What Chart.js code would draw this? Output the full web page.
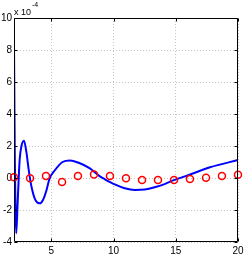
<!DOCTYPE html>
<html><head><meta charset="utf-8">
<script src="https://cdn.jsdelivr.net/npm/chart.js@4.4.0/dist/chart.umd.min.js"></script>
<style>html,body{margin:0;padding:0;background:#fff;overflow:hidden}#wrap{width:249px;height:254px;position:relative}canvas{display:block}</style>
</head><body>
<div id="wrap"><canvas id="c"></canvas></div>
<script>
// values in units of 1e-4
const curveX = [2.0, 2.03, 2.07, 2.12, 2.18, 2.28, 2.38, 2.46, 2.6, 2.8, 3.0, 3.15, 3.3, 3.45, 3.66, 3.85, 4.07, 4.33, 4.6, 4.85, 5.3, 5.9, 6.5, 7.2, 8.1, 8.9, 9.3, 10.1, 10.9, 11.7, 12.5, 13.3, 14.1, 14.9, 16.1, 17.75, 20.0];
const curveY = [8.4, 5.0, 1.0, -2.0, -3.45, -1.8, 0.0, 1.2, 2.0, 2.33, 1.6, 0.7, -0.1, -0.7, -1.27, -1.52, -1.58, -1.37, -0.8, -0.05, 0.5, 1.0, 1.1, 0.95, 0.6, 0.1, -0.08, -0.4, -0.64, -0.75, -0.72, -0.58, -0.38, -0.12, 0.2, 0.67, 1.12];
const markerX = [2.0, 3.29, 4.57, 5.86, 7.14, 8.43, 9.71, 11.0, 12.29, 13.57, 14.86, 16.14, 17.43, 18.71, 20.0];
const markerY = [0.04, -0.02, 0.12, -0.25, 0.12, 0.22, 0.12, -0.02, -0.12, -0.12, -0.12, -0.06, 0.02, 0.12, 0.2];
const xTicks = [5, 10, 15, 20];
const yTicks = [-4, -2, 0, 2, 4, 6, 8, 10];
const multiplierBase = 'x 10';
const multiplierExp = '-4';

const FONT = 'Liberation Sans, Arial, Helvetica, sans-serif';

const frame = {
  id: 'frame',
  afterDraw(chart) {
    const {ctx, chartArea: {left, right, top, bottom}, scales: {x, y}} = chart;
    ctx.save();
    ctx.strokeStyle = '#000';
    ctx.lineWidth = 1;
    const L = left + 0.5, R = right - 0.5, T = top + 0.5, B = bottom - 0.5;
    ctx.beginPath();
    ctx.rect(L, T, R - L, B - T);
    ctx.stroke();
    const tl = 3;
    ctx.beginPath();
    xTicks.forEach(v => {
      const px = Math.round(x.getPixelForValue(v)) + 0.5;
      ctx.moveTo(px, B); ctx.lineTo(px, B - tl);
      ctx.moveTo(px, T); ctx.lineTo(px, T + tl);
    });
    yTicks.forEach(v => {
      const py = Math.round(y.getPixelForValue(v)) + 0.5;
      ctx.moveTo(L, py); ctx.lineTo(L + tl, py);
      ctx.moveTo(R, py); ctx.lineTo(R - tl, py);
    });
    ctx.stroke();
    ctx.fillStyle = '#000';
    ctx.textBaseline = 'alphabetic';
    ctx.font = '9px ' + FONT;
    ctx.fillText(multiplierBase, left, 15);
    const w = ctx.measureText(multiplierBase).width;
    ctx.font = '7px ' + FONT;
    ctx.fillText(multiplierExp, left + w + 1, 7);
    ctx.restore();
  }
};

new Chart(document.getElementById('c'), {
  type: 'scatter',
  data: {
    datasets: [
      {
        data: markerX.map((v, i) => ({x: v, y: markerY[i]})),
        showLine: false,
        pointStyle: 'circle',
        pointRadius: 3.5,
        pointBorderWidth: 1.5,
        pointBorderColor: '#ff0000',
        pointBackgroundColor: 'rgba(0,0,0,0)',
        clip: false
      },
      {
        data: curveX.map((v, i) => ({x: v, y: curveY[i]})),
        showLine: true,
        borderColor: '#0000ff',
        borderWidth: 2,
        pointRadius: 0,
        cubicInterpolationMode: 'monotone',
        fill: false
      }
    ]
  },
  options: {
    responsive: true,
    maintainAspectRatio: false,
    animation: false,
    devicePixelRatio: 1,
    layout: {padding: {top: 18, right: 11, left: 0, bottom: 0}},
    plugins: {legend: {display: false}, tooltip: {enabled: false}},
    scales: {
      x: {
        type: 'linear', min: 2, max: 20,
        afterBuildTicks: s => { s.ticks = xTicks.map(v => ({value: v})); },
        afterFit: s => { s.height = 12; },
        grid: {color: '#c4c4c4', lineWidth: 1, drawTicks: false},
        border: {display: false, dash: [1, 2]},
        ticks: {font: {family: FONT, size: 10}, color: '#000', padding: 3, maxRotation: 0, autoSkip: false}
      },
      y: {
        type: 'linear', min: -4, max: 10,
        afterBuildTicks: s => { s.ticks = yTicks.map(v => ({value: v})); },
        afterFit: s => { s.width = 14; },
        grid: {color: '#c4c4c4', lineWidth: 1, drawTicks: false},
        border: {display: false, dash: [1, 2]},
        ticks: {font: {family: FONT, size: 10}, color: '#000', padding: 2, autoSkip: false}
      }
    }
  },
  plugins: [frame]
});
</script>
</body></html>
